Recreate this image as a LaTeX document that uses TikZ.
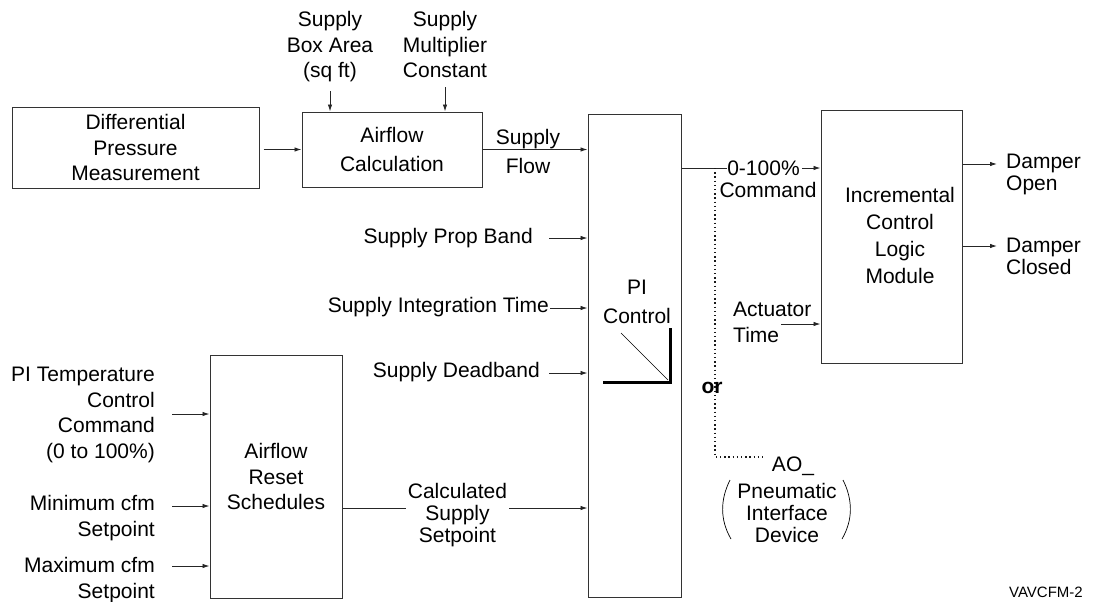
\documentclass[tikz,border=0pt]{standalone}
\usepackage{fontspec}
\setmainfont{Liberation Sans}
\usetikzlibrary{arrows.meta}

\begin{document}
\begin{tikzpicture}[
    x=1pt, y=-1pt, >={Latex[length=7pt,width=4.5pt]},
    line join=miter,
    box/.style={draw=black!80, line width=1pt, inner sep=0pt, align=center,
      font=\fontsize{21}{25.6}\selectfont},
    lbl/.style={inner sep=0pt, align=center, font=\fontsize{21}{25.6}\selectfont},
    tight/.style={font=\fontsize{21}{22}\selectfont},
    feed/.style={->, line width=0.9pt, black!85},
    wire/.style={line width=0.9pt, black!85},
    tap/.style={line width=1.1pt, black!90, dash pattern=on 1.3pt off 2.9pt},
  ]
  \useasboundingbox (0,0) rectangle (1095,602);

  % --- blocks ---
  \node[box, minimum width=247, minimum height=81] (dpm) at (135.5,147.5)
    {Differential\\Pressure\\Measurement};
  \node[box, minimum width=180, minimum height=75] (afc) at (392,149.5)
    {Airflow\\[3pt]Calculation};
  \node[box, minimum width=93, minimum height=483] (pi) at (634.5,355.5) {};
  \node[lbl, anchor=north] (pitxt) at (637,280) {PI\\[3pt]Control};
  \node[box, minimum width=141, minimum height=253] (iclm) at (891.5,236.5) {};
  \node[lbl, anchor=north, font=\fontsize{21}{27}\selectfont] (iclmtxt) at (900,187)
    {Incremental\\Control\\Logic\\Module};
  \node[box, minimum width=132, minimum height=243] (ars) at (276,476.5)
    {Airflow\\Reset\\Schedules};

  % --- PI symbol ---
  \draw[line width=3pt] (670,328) -- (670,382) -- (603,382);
  \draw[line width=0.7pt] (621,333) -- (668,380);

  % --- airflow calculation inputs ---
  \node[lbl, anchor=north] (area) at (330,11) {Supply\\Box Area\\(sq ft)};
  \node[lbl, anchor=north] (mult) at (445,11) {Supply\\Multiplier\\Constant};
  \draw[feed] ([yshift=-9pt]area.south) -- (area.south |- afc.north);
  \draw[feed] ([yshift=-9pt]mult.south) -- (mult.south |- afc.north);
  \draw[feed, shorten <=4pt] (dpm.east |- afc.west) -- (afc.west);

  \draw[feed] (afc.east) -- (afc.east -| pi.west);
  \node[lbl, anchor=north] (sflow) at (528,129) {Supply\\[3.4pt]Flow};

  % --- PI tuning inputs ---
  \foreach \nm/\txt/\tx/\ty/\ax/\ay in {%
      pb/{Supply Prop Band}/533/238/549/238,
      it/{Supply Integration Time}/549/307.5/550/308,
      db/{Supply Deadband}/540/372.5/549/373}{
    \node[lbl, anchor=east] (\nm) at (\tx,\ty) {\txt};
    \coordinate (\nm-out) at (\ax,\ay);
    \draw[feed] (\nm-out) -- (\nm-out -| pi.west);
  }

  % --- reset schedule inputs ---
  \foreach \nm/\txt/\ty/\ay in {%
      ptc/{PI Temperature\\Control\\Command\\(0 to 100\%)}/367/414,
      mn/{Minimum cfm\\Setpoint}/495/506,
      mx/{Maximum cfm\\Setpoint}/557/566}{
    \node[lbl, align=right, anchor=north east] (\nm) at (155,\ty) {\txt};
    \coordinate (\nm-out) at (172,\ay);
    \draw[feed] (\nm-out) -- (\nm-out -| ars.west);
  }

  % --- calculated setpoint ---
  \node[lbl, tight, anchor=north] (csp) at (457.5,483) {Calculated\\Supply\\Setpoint};
  \coordinate (csp-y) at (0,508);
  \draw[wire, shorten >=2pt] (ars.east |- csp-y) -- (csp.west |- csp-y);
  \draw[feed, shorten <=2pt] (csp.east |- csp-y) -- (pi.west |- csp-y);

  % --- command to logic module ---
  \node[lbl] (pct) at (763.5,168) {0-100\%};
  \node[lbl, anchor=north] (cmd) at (768,182) {Command};
  \draw[wire] (pi.east |- pct) -- (pct.west);
  \draw[feed, shorten <=2pt] (pct.east) -- (pct -| iclm.west);

  \node[lbl, align=left, anchor=north west] (act) at (733,302) {Actuator\\Time};
  \coordinate (act-out) at (781,324);
  \draw[feed] (act-out) -- (act-out -| iclm.west);

  % --- alternative analog output ---
  \coordinate (split) at (pct -| 715,0);
  \node[lbl, anchor=north] (ao) at (793,457) {AO\_};
  \draw[tap] (split) |- ([xshift=-8pt]ao.north west);
  \node[lbl, anchor=base, font=\fontsize{21}{25.6}\selectfont\bfseries] (or) at (712,393) {or};
  \node[lbl, tight, anchor=north] (pid) at (787,483) {Pneumatic\\Interface\\Device};
  \draw[line width=0.7pt] (730,480) .. controls (720,500) and (720,520) .. (731,539);
  \draw[line width=0.7pt] (843,480) .. controls (853,500) and (853,520) .. (842,539);

  % --- damper outputs ---
  \coordinate (dop-in) at (997,164);
  \coordinate (dcl-in) at (997,246);
  \draw[feed] (dop-in -| iclm.east) -- (dop-in);
  \draw[feed] (dcl-in -| iclm.east) -- (dcl-in);
  \node[lbl, tight, align=left, anchor=north west] (dop) at (1006,154) {Damper\\Open};
  \node[lbl, tight, align=left, anchor=north west] (dcl) at (1006,238) {Damper\\Closed};

  \node[inner sep=0pt, anchor=base east, font=\fontsize{15}{18}\selectfont] (tag)
    at (1083,597) {VAVCFM-2};
\end{tikzpicture}
\end{document}
